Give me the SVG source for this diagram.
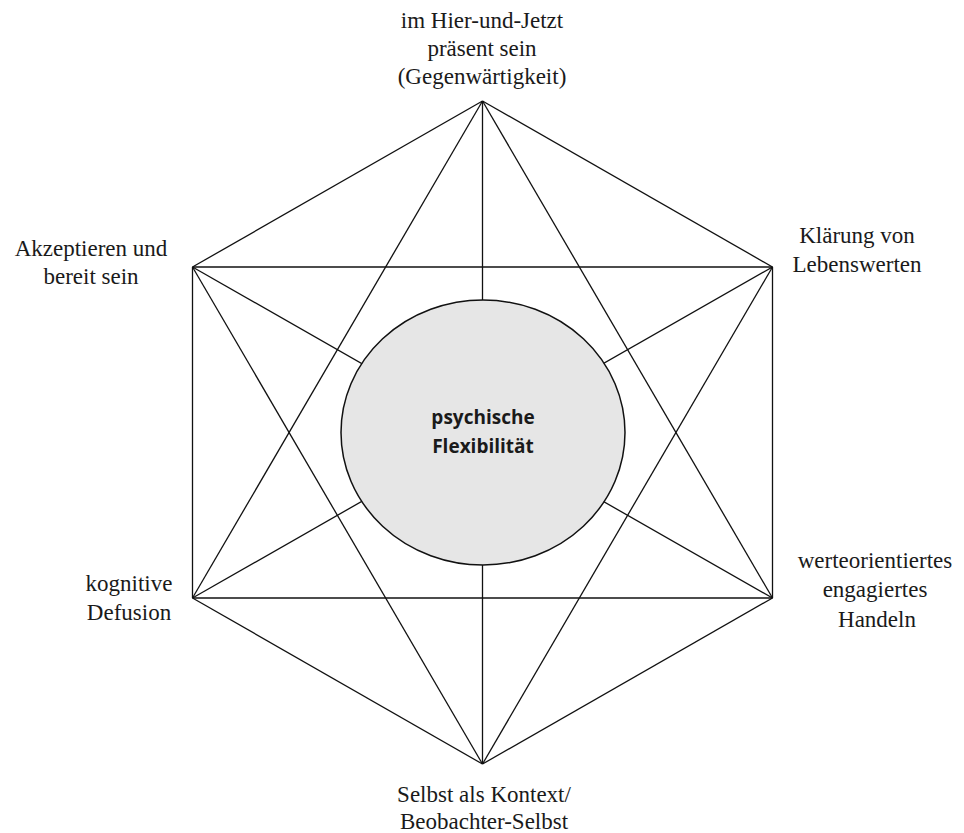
<svg xmlns="http://www.w3.org/2000/svg" width="964" height="833" viewBox="0 0 964 833">
<style>
.lbl{font-family:"Liberation Serif","Times New Roman",serif;font-size:23px;fill:#1a1a1a;text-anchor:middle}
.ctr{font-family:"Open Sans","Noto Sans",sans-serif;font-weight:bold;font-size:19px;fill:#1a1a1a;text-anchor:middle}
.edge{stroke:#111;stroke-width:1.3;fill:none}
</style>
<rect width="964" height="833" fill="#fff"/>
<g id="connectors" class="edge">
<line x1="482.5" y1="101" x2="192.5" y2="267"/>
<line x1="482.5" y1="101" x2="772.5" y2="267"/>
<line x1="192.5" y1="267" x2="192.5" y2="598"/>
<line x1="772.5" y1="267" x2="772.5" y2="598"/>
<line x1="192.5" y1="598" x2="482.5" y2="764"/>
<line x1="772.5" y1="598" x2="482.5" y2="764"/>
<line x1="192.5" y1="267" x2="772.5" y2="267"/>
<line x1="192.5" y1="598" x2="772.5" y2="598"/>
<line x1="482.5" y1="101" x2="192.5" y2="598"/>
<line x1="482.5" y1="101" x2="772.5" y2="598"/>
<line x1="192.5" y1="267" x2="482.5" y2="764"/>
<line x1="772.5" y1="267" x2="482.5" y2="764"/>
<line x1="482.5" y1="101" x2="482.5" y2="764"/>
<line x1="192.5" y1="267" x2="772.5" y2="598"/>
<line x1="772.5" y1="267" x2="192.5" y2="598"/>
</g>
<g id="center">
<ellipse cx="483" cy="432.5" rx="142" ry="132.5" fill="#e6e6e6" stroke="#111" stroke-width="1.5"/>
<text class="ctr" x="483" y="424">psychische</text>
<text class="ctr" x="483" y="453">Flexibilität</text>
</g>
<g id="top">
<text class="lbl" x="482" y="28">im Hier-und-Jetzt</text>
<text class="lbl" x="482" y="56">präsent sein</text>
<text class="lbl" x="482" y="84">(Gegenwärtigkeit)</text>
</g>
<g id="upper-left">
<text class="lbl" x="91" y="256">Akzeptieren und</text>
<text class="lbl" x="91" y="284">bereit sein</text>
</g>
<g id="upper-right">
<text class="lbl" x="857" y="243">Klärung von</text>
<text class="lbl" x="857" y="272">Lebenswerten</text>
</g>
<g id="lower-left">
<text class="lbl" x="129" y="591">kognitive</text>
<text class="lbl" x="129" y="620">Defusion</text>
</g>
<g id="lower-right">
<text class="lbl" x="875" y="568">werteorientiertes</text>
<text class="lbl" x="875" y="597">engagiertes</text>
<text class="lbl" x="877" y="627">Handeln</text>
</g>
<g id="bottom">
<text class="lbl" x="484" y="802">Selbst als Kontext/</text>
<text class="lbl" x="484" y="829">Beobachter-Selbst</text>
</g>
</svg>
